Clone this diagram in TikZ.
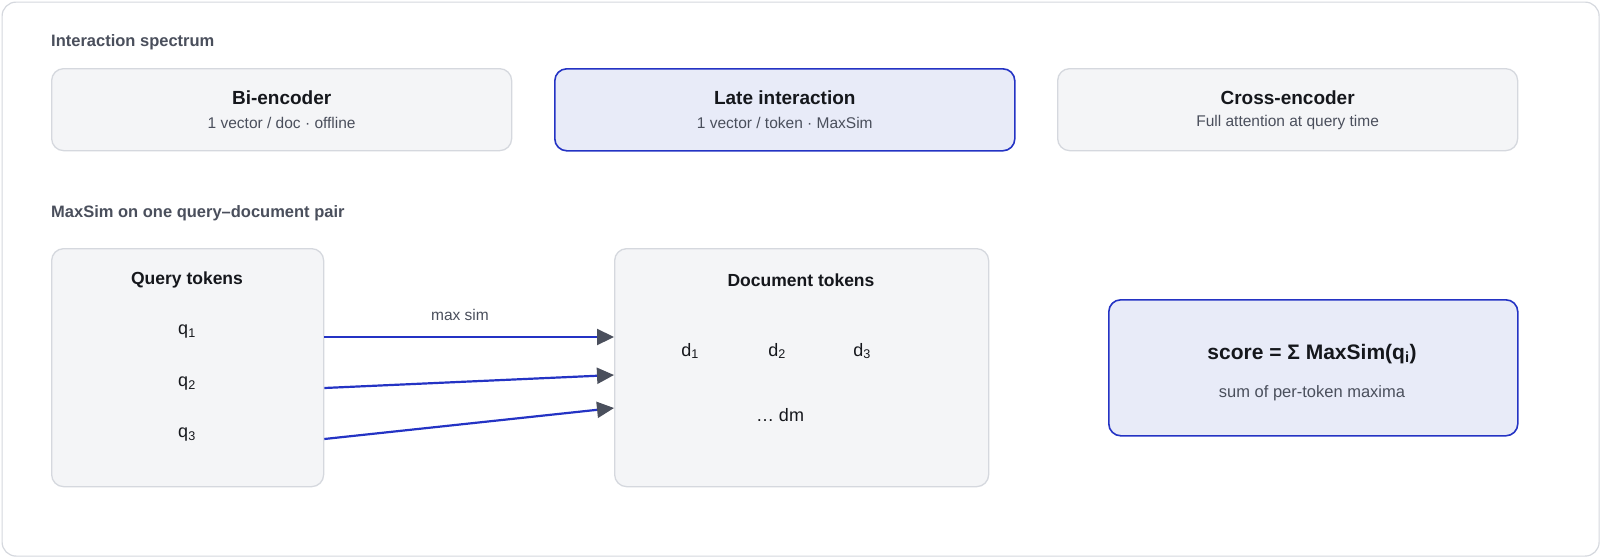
\documentclass[tikz,border=0pt]{standalone}
\usepackage{fontspec}
\setmainfont{Liberation Sans}
\usepackage{tikz}
\usetikzlibrary{arrows.meta,positioning}
\definecolor{boxfill}{HTML}{F4F5F7}
\definecolor{boxline}{HTML}{D5D8DE}
\definecolor{hifill}{HTML}{E8EBF8}
\definecolor{hiline}{HTML}{2433C4}
\definecolor{inkdark}{HTML}{15171C}
\definecolor{inkgrey}{HTML}{4A4F5C}
\begin{document}
\begin{tikzpicture}[x=1pt,y=-1pt]
\tikzstyle{every text node part/.style}=[align=center]

\tikzstyle{panel}=[draw=boxline,fill=boxfill,rounded corners=12,line width=1.3,anchor=north west,inner sep=0]

\tikzstyle{hipanel}=[panel,draw=hiline,fill=hifill,line width=1.6]

\tikzstyle{title}=[font=\bfseries\fontsize{19}{22}\selectfont,text=inkdark]

\tikzstyle{sub}=[font=\fontsize{15.5}{18}\selectfont,text=inkgrey]

\tikzstyle{heading}=[font=\bfseries\fontsize{16.5}{20}\selectfont,text=inkgrey,anchor=west,inner sep=0]

\tikzstyle{token}=[font=\fontsize{18}{20}\selectfont,text=inkdark]

\tikzstyle{link}=[draw=hiline,line width=2.2,-{Triangle[length=17,width=16,color=inkgrey]}]

\useasboundingbox (0,0) rectangle (1600,557);

\node [draw=boxline,fill=white,rounded corners=14,minimum width=1597,minimum height=554,anchor=north west,inner sep=0,line width=1.2] (frame) at (1.5,1.5) {};

\node [heading] (spectrum) at (51,42) {Interaction spectrum};

\node [panel,minimum width=460,minimum height=82] (bi) at (51,68) {};
\node [title] at ([yshift=12]bi.center) {Bi-encoder};
\node [sub] at ([yshift=-13]bi.center) {1 vector / doc · offline};

\node [hipanel,minimum width=460,minimum height=82] (late) at (554,68) {};
\node [title] at ([yshift=12]late.center) {Late interaction};
\node [sub] at ([yshift=-13]late.center) {1 vector / token · MaxSim};

\node [panel,minimum width=460,minimum height=82] (cross) at (1057,68) {};
\node [title] at ([yshift=12]cross.center) {Cross-encoder};
\node [sub] at ([yshift=-13]cross.center) {Full attention at query time};

\node [heading] (maxsim) at (51,213) {MaxSim on one query–document pair};

\node [panel,minimum width=272,minimum height=238] (query) at (51,248) {};
\node [title,font=\bfseries\fontsize{17.5}{20}\selectfont] at (187,280) {Query tokens};
\node [token] (q1) at (187,332) {q\textsubscript{1}};
\node [token] (q2) at (187,384) {q\textsubscript{2}};
\node [token] (q3) at (187,435) {q\textsubscript{3}};

\node [panel,minimum width=374,minimum height=238] (doc) at (614,248) {};
\node [title,font=\bfseries\fontsize{17.5}{20}\selectfont] at (801,280) {Document tokens};
\node [token] (d1) at (690,351) {d\textsubscript{1}};
\node [token] (d2) at (777,351) {d\textsubscript{2}};
\node [token] (d3) at (862,351) {d\textsubscript{3}};
\node [token] (dm) at (780,415) {… dm};

\node [hipanel,minimum width=409,minimum height=136] (score) at (1108,299) {};
\node [title,font=\bfseries\fontsize{21}{24}\selectfont] at (1312,354) {score = Σ MaxSim(q\textsubscript{i})};
\node [sub,font=\fontsize{16.5}{19}\selectfont] at (1312,393) {sum of per-token maxima};

\coordinate (q1out) at (query.east|-0,337);
\coordinate (q2out) at (query.east|-0,388);
\coordinate (q3out) at (query.east|-0,439);
\coordinate (d1in) at (doc.west|-0,337);
\coordinate (d2in) at (doc.west|-0,375);
\coordinate (d3in) at (doc.west|-0,408);

\node [sub] (simlabel) at (460,315) {max sim};
\draw[link] (q1out) -- (d1in);
\draw[link] (q2out) -- (d2in);
\draw[link] (q3out) -- (d3in);

\end{tikzpicture}
\end{document}
